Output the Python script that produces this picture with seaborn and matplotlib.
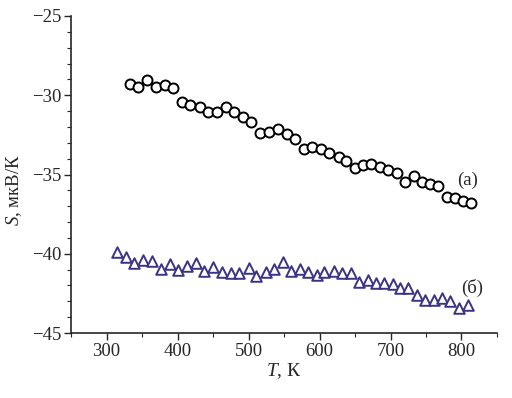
import numpy as np
import pandas as pd
import seaborn as sns
import matplotlib
matplotlib.use("Agg")
import matplotlib.pyplot as plt
from matplotlib.ticker import MultipleLocator

# кривая (а) - кружки
T_a = [333, 345, 357, 369, 382, 394, 406, 418, 431, 443, 456, 468, 480, 492,
       504, 516, 529, 541, 554, 566, 578, 590, 602, 614, 627, 638, 650, 661,
       672, 685, 697, 709, 721, 733, 744, 756, 767, 779, 791, 802, 813]
S_a = [-29.29, -29.46, -29.04, -29.46, -29.35, -29.56, -30.43, -30.64, -30.72,
       -31.04, -31.04, -30.72, -31.04, -31.40, -31.69, -32.40, -32.30, -32.15,
       -32.44, -32.78, -33.41, -33.25, -33.41, -33.62, -33.88, -34.13, -34.61,
       -34.37, -34.34, -34.55, -34.72, -34.89, -35.45, -35.10, -35.50, -35.60,
       -35.70, -36.40, -36.50, -36.65, -36.82]

# кривая (б) - треугольники
T_b = [315, 328, 339, 352, 364, 377, 389, 401, 413, 426, 438, 450, 462, 475,
       487, 500, 510, 524, 536, 548, 560, 572, 584, 596, 607, 620, 631, 644,
       656, 668, 679, 691, 703, 714, 725, 737, 749, 761, 772, 784, 796, 809]
S_b = [-39.87, -40.19, -40.60, -40.39, -40.44, -40.96, -40.67, -41.03, -40.77,
       -40.56, -41.07, -40.86, -41.13, -41.20, -41.24, -40.92, -41.40, -41.17,
       -40.98, -40.54, -41.07, -40.98, -41.17, -41.34, -41.17, -41.09, -41.24,
       -41.24, -41.77, -41.66, -41.86, -41.86, -41.91, -42.18, -42.18, -42.60,
       -42.92, -42.92, -42.80, -42.96, -43.44, -43.23]

df_a = pd.DataFrame({"T": T_a, "S": S_a})
df_b = pd.DataFrame({"T": T_b, "S": S_b})

sns.set_style("ticks")
plt.rcParams["font.family"] = ["Liberation Serif", "DejaVu Serif"]
plt.rcParams["mathtext.fontset"] = "custom"
plt.rcParams["mathtext.it"] = "Liberation Serif:italic"
plt.rcParams["mathtext.rm"] = "Liberation Serif"

fig = plt.figure(figsize=(5.12, 3.98), dpi=100)
ax = fig.add_axes([0.1387, 0.1633, 0.832, 0.7965])

sns.scatterplot(data=df_a, x="T", y="S", marker="o", s=52, facecolor="white",
                edgecolor="black", linewidth=1.4, ax=ax, zorder=3)
sns.scatterplot(data=df_b, x="T", y="S", marker="^", s=58, facecolor="white",
                edgecolor="#3b3383", linewidth=1.4, ax=ax, zorder=3)

ax.text(808, -35.4, "(а)", fontsize=13.5, ha="center", va="center")
ax.text(815, -42.15, "(б)", fontsize=13.5, ha="center", va="center")

ax.set_xlim(250, 850)
ax.set_ylim(-45, -25)
ax.xaxis.set_major_locator(MultipleLocator(100))
ax.xaxis.set_minor_locator(MultipleLocator(50))
ax.yaxis.set_major_locator(MultipleLocator(5))
ax.yaxis.set_minor_locator(MultipleLocator(1))
ax.set_xticks(range(300, 801, 100))
ax.tick_params(axis="both", which="major", labelsize=13.5, length=5, width=1, pad=2)
ax.tick_params(axis="both", which="minor", length=3, width=0.8)
for sp in ["left", "bottom"]:
    ax.spines[sp].set_linewidth(1.2)
sns.despine(ax=ax)

ax.set_xlabel("$T$, К", fontsize=14, labelpad=1)
ax.set_ylabel("$S$, мкВ/К", fontsize=13.5)
ax.yaxis.set_label_coords(-0.11, 0.45)

fig.savefig("out.png", dpi=100)
